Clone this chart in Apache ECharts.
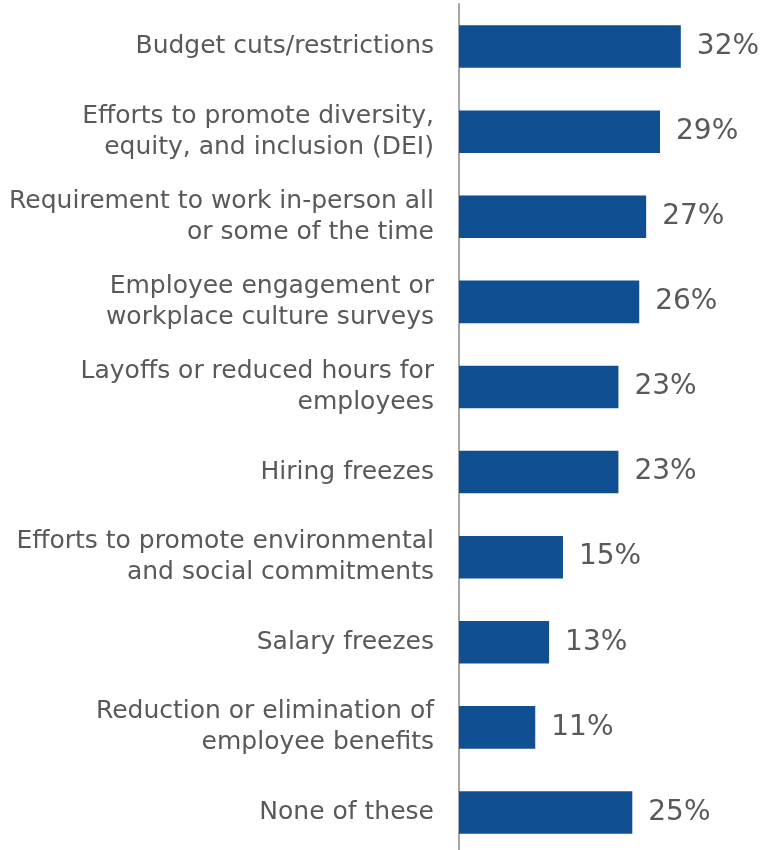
<!DOCTYPE html>
<html>
<head>
<meta charset="utf-8">
<style>
  html, body { margin: 0; padding: 0; background: #ffffff; overflow: hidden; }
  #chart { width: 768px; height: 860px; }
</style>
<script src="https://cdn.jsdelivr.net/npm/echarts@6/dist/echarts.min.js"></script>
</head>
<body>
<div id="chart"></div>
<script>
// Survey responses: factors reported, share of respondents (%)
const categories = [
  'Budget cuts/restrictions',
  'Efforts to promote diversity,\nequity, and inclusion (DEI)',
  'Requirement to work in-person all\nor some of the time',
  'Employee engagement or\nworkplace culture surveys',
  'Layoffs or reduced hours for\nemployees',
  'Hiring freezes',
  'Efforts to promote environmental\nand social commitments',
  'Salary freezes',
  'Reduction or elimination of\nemployee benefits',
  'None of these'
];
const values = [32, 29, 27, 26, 23, 23, 15, 13, 11, 25];

const FONT = "'Century Gothic', 'DejaVu Sans', sans-serif";
const TEXT = '#595959';

const chart = echarts.init(document.getElementById('chart'));
chart.setOption({
  animation: false,
  // the plot runs a little past the bottom edge of the page
  grid: { left: 459, right: 4, top: 4, bottom: 5, containLabel: false },
  xAxis: {
    type: 'value',
    min: 0,
    max: 44,
    show: false
  },
  yAxis: {
    type: 'category',
    inverse: true,
    data: categories,
    axisLine: { show: true, lineStyle: { color: '#A6A6A6', width: 2 } },
    axisTick: { show: false },
    axisLabel: {
      margin: 25,
      color: TEXT,
      fontFamily: FONT,
      fontSize: 25,
      lineHeight: 31,
      align: 'right'
    }
  },
  series: [{
    type: 'bar',
    data: values,
    barCategoryGap: '50%',
    itemStyle: { color: '#114F93' },
    label: {
      show: true,
      position: 'right',
      distance: 16,
      formatter: '{c}%',
      color: TEXT,
      fontFamily: FONT,
      fontSize: 28
    }
  }]
});
</script>
</body>
</html>
